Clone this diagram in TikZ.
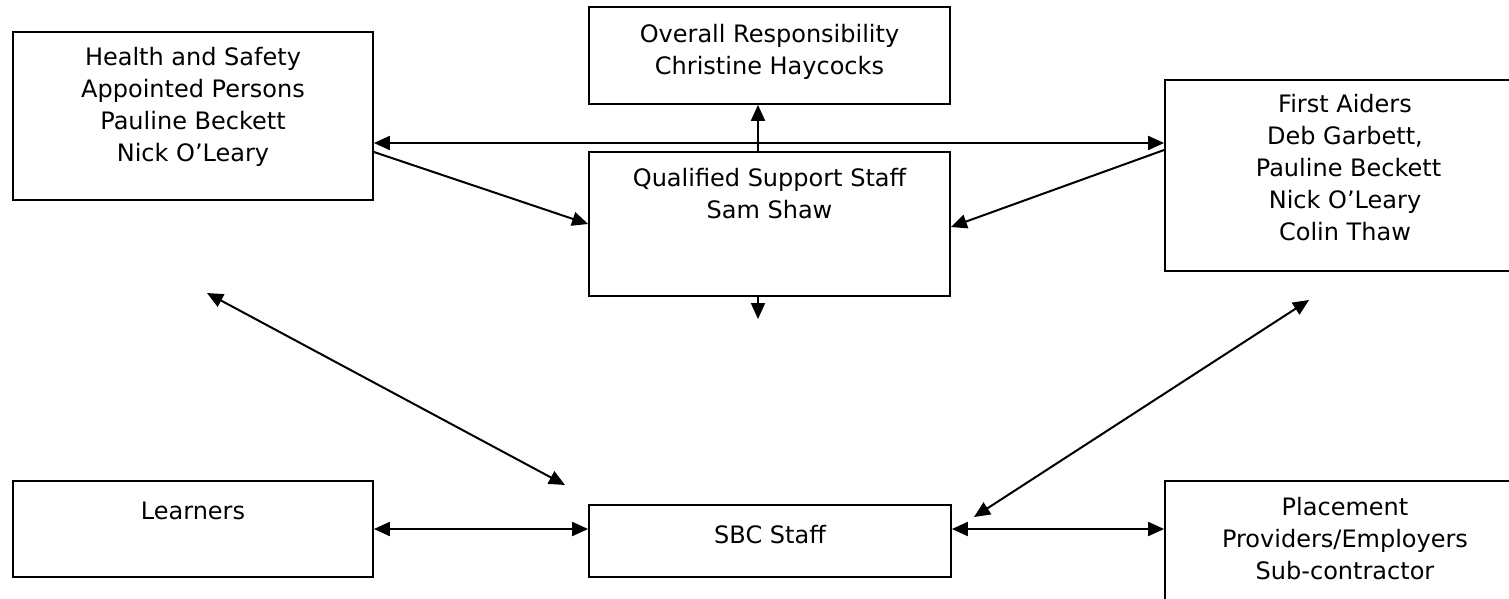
\documentclass[tikz,border=0pt]{standalone}
\usepackage{fontspec}
\setmainfont{DejaVu Sans}
\usetikzlibrary{arrows.meta}
\begin{document}
\begin{tikzpicture}[x=1pt,y=-1pt,
  box/.style={draw=black,line width=1.8pt,rectangle,inner sep=0pt},
  lbl/.style={anchor=base,inner sep=0pt,font=\fontsize{24}{32}\selectfont},
  conn/.style={line width=2pt,draw=black},
  tip/.style={conn,-{Triangle[length=16pt,width=14pt]}},
  dtip/.style={conn,{Triangle[length=16pt,width=14pt]}-{Triangle[length=16pt,width=14pt]}}]
\path[use as bounding box] (0,0) rectangle (1509,598);
\clip (0,0) rectangle (1509,598);
\fill[white] (0,0) rectangle (1509,598);
% boxes
\node[box,minimum width=360pt,minimum height=168pt] (hs) at (193,116) {};
\node[box,minimum width=361pt,minimum height=97pt] (ov) at (769.5,55.5) {};
\node[box,minimum width=361pt,minimum height=144pt] (qs) at (769.5,224) {};
\node[box,minimum width=360pt,minimum height=191pt] (fa) at (1345,175.5) {};
\node[box,minimum width=360pt,minimum height=96pt] (le) at (193,529) {};
\node[box,minimum width=362pt,minimum height=72pt] (sb) at (770,541) {};
\node[box,minimum width=360pt,minimum height=140pt] (pl) at (1345,551) {};
% labels
\node[lbl] (hst) at (193,65) {\begin{tabular}[t]{@{}c@{}}Health and Safety\\Appointed Persons\\Pauline Beckett\\Nick O’Leary\end{tabular}};
\node[lbl] (ovt) at (769.5,42) {\begin{tabular}[t]{@{}c@{}}Overall Responsibility\\Christine Haycocks\end{tabular}};
\node[lbl] (qst) at (769.5,186) {\begin{tabular}[t]{@{}c@{}}Qualified Support Staff\\Sam Shaw\end{tabular}};
\node[lbl] (fat) at (1345,112) {\begin{tabular}[t]{@{}c@{}}First Aiders\\Deb Garbett,\\\hspace*{7pt}Pauline Beckett\\Nick O’Leary\\Colin Thaw\end{tabular}};
\node[lbl] (let) at (193,519) {Learners};
\node[lbl] (sbt) at (770,543) {SBC Staff};
\node[lbl] (plt) at (1345,515) {\begin{tabular}[t]{@{}c@{}}Placement\\Providers/Employers\\Sub-contractor\end{tabular}};
% free ends
\coordinate (qsdown) at (758,319);
\coordinate (dl1) at (207,293);
\coordinate (dl2) at (565,485);
\coordinate (dr1) at (1309,300);
\coordinate (dr2) at (974,517);
% connectors
\draw[dtip] (hs.east |- 0,143) -- (fa.west |- 0,143);
\draw[tip] (qs.north -| 758,0) -- (ov.south -| 758,0);
\draw[tip] (qs.south -| 758,0) -- (qsdown);
\draw[tip] (hs.east |- 0,152) -- (qs.west |- 0,224);
\draw[tip] (fa.west |- 0,150) -- (qs.east |- 0,227);
\draw[dtip] (dl1) -- (dl2);
\draw[dtip] (dr1) -- (dr2);
\draw[dtip] (le.east |- 0,529) -- (sb.west |- 0,529);
\draw[dtip] (sb.east |- 0,529) -- (pl.west |- 0,529);
\end{tikzpicture}
\end{document}
